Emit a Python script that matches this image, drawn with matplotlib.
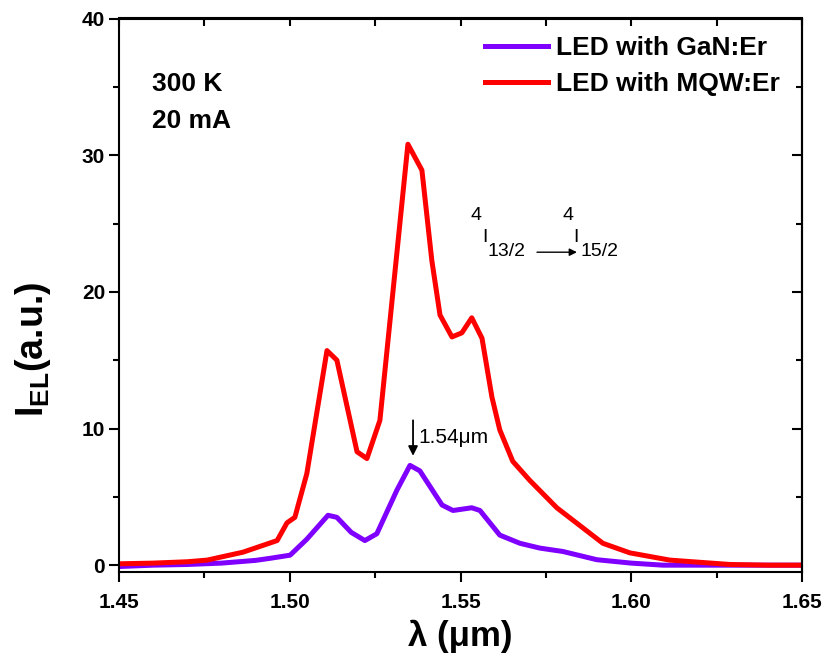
import matplotlib
matplotlib.use("Agg")
import matplotlib.pyplot as plt
from matplotlib.ticker import MultipleLocator

plt.rcParams['font.family'] = ['Liberation Sans', 'DejaVu Sans']
plt.rcParams['mathtext.fontset'] = 'custom'
plt.rcParams['mathtext.rm'] = 'Liberation Sans'
plt.rcParams['mathtext.bf'] = 'Liberation Sans:bold'
plt.rcParams['mathtext.it'] = 'Liberation Sans:italic'

# ---- data ----
wl_mqw = [1.450, 1.460, 1.470, 1.4758, 1.4863, 1.4963, 1.4992, 1.5015, 1.5050,
          1.5109, 1.5138, 1.5197, 1.5226, 1.5264, 1.5346, 1.5387, 1.5416, 1.5440,
          1.5475, 1.5504, 1.5533, 1.5563, 1.5592, 1.5615, 1.5653, 1.5703, 1.5782,
          1.5917, 1.5996, 1.6113, 1.6289, 1.640, 1.650]
i_mqw = [0.1, 0.15, 0.25, 0.37, 0.95, 1.8, 3.1, 3.5, 6.7,
         15.7, 15.0, 8.3, 7.8, 10.6, 30.8, 28.9, 22.3, 18.3,
         16.7, 17.0, 18.1, 16.6, 12.3, 9.9, 7.6, 6.2, 4.2,
         1.6, 0.9, 0.37, 0.05, 0.0, 0.0]

wl_gan = [1.450, 1.460, 1.470, 1.480, 1.490, 1.4942, 1.5001, 1.5050, 1.5112,
          1.5138, 1.5180, 1.5220, 1.5255, 1.5314, 1.5352, 1.5381, 1.5446, 1.5478,
          1.5533, 1.5557, 1.5615, 1.5674, 1.5732, 1.5800, 1.5899, 1.6000, 1.6093,
          1.620, 1.650]
i_gan = [-0.1, 0.0, 0.05, 0.15, 0.35, 0.5, 0.73, 1.9, 3.65,
         3.5, 2.4, 1.8, 2.3, 5.5, 7.3, 6.9, 4.4, 4.0,
         4.2, 4.0, 2.2, 1.6, 1.25, 1.0, 0.4, 0.15, 0.0,
         0.0, 0.0]

labels = ['LED with GaN:Er', 'LED with MQW:Er']
colors = ['#7F00FF', '#FF0000']
x_ticks = [1.45, 1.50, 1.55, 1.60, 1.65]
y_ticks = [0, 10, 20, 30, 40]

fig = plt.figure(figsize=(8.26, 6.62), dpi=100)
ax = fig.add_axes([119/826, 1-572/662, (802-119)/826, (572-18.5)/662])

ax.plot(wl_gan, i_gan, color=colors[0], lw=3.6, label=labels[0], solid_joinstyle='round')
ax.plot(wl_mqw, i_mqw, color=colors[1], lw=3.6, label=labels[1], solid_joinstyle='round')

ax.set_xlim(1.45, 1.65)
ax.set_ylim(-0.5, 40)
ax.set_xticks(x_ticks)
ax.set_xticklabels([f'{v:.2f}' for v in x_ticks])
ax.set_yticks(y_ticks)
ax.set_yticklabels([str(v) for v in y_ticks])
ax.xaxis.set_minor_locator(MultipleLocator(0.025))
ax.yaxis.set_minor_locator(MultipleLocator(5))

for s in ax.spines.values():
    s.set_linewidth(1.5)

ax.tick_params(which='major', direction='out', length=7, width=1.5, labelsize=15)
ax.tick_params(which='minor', direction='out', length=4, width=1.5)
ax.tick_params(axis='x', which='major', pad=8)
ax.tick_params(axis='y', which='major', pad=3)
for lab in ax.get_xticklabels() + ax.get_yticklabels():
    lab.set_fontweight('bold')

# mirrored ticks pointing inward on top/right
axt = ax.secondary_xaxis('top')
axt.set_xticks(x_ticks)
axt.xaxis.set_minor_locator(MultipleLocator(0.025))
axt.tick_params(which='both', direction='in', labeltop=False, width=1.5)
axt.tick_params(which='major', length=6)
axt.tick_params(which='minor', length=6)
axr = ax.secondary_yaxis('right')
axr.set_yticks(y_ticks)
axr.yaxis.set_minor_locator(MultipleLocator(5))
axr.tick_params(which='both', direction='in', labelright=False, width=1.5)
axr.tick_params(which='major', length=7)
axr.tick_params(which='minor', length=4)
axt.spines['top'].set_linewidth(1.5)
axr.spines['right'].set_linewidth(1.5)

ax.set_xlabel('λ (μm)', fontsize=25, fontweight='bold', labelpad=6)
fig.text(33/826, 1-349/662, r'$\mathbf{I}_{\mathbf{EL}}$(a.u.)', rotation=90,
         ha='center', va='center', fontsize=27, fontweight='bold')

leg = ax.legend(loc='upper left', bbox_to_anchor=(0.536, 0.968), frameon=False,
                prop={'weight': 'bold', 'size': 19}, handlelength=2.4,
                handletextpad=0.27, labelspacing=0.45, borderpad=0, borderaxespad=0)

ax.text(0.048, 0.881, '300 K', transform=ax.transAxes, fontsize=19,
        fontweight='bold', ha='left', va='center')
ax.text(0.048, 0.814, '20 mA', transform=ax.transAxes, fontsize=19,
        fontweight='bold', ha='left', va='center')

# 1.54 um marker
ax.annotate('', xy=(1.5361, 8.0), xytext=(1.5361, 10.6),
            arrowprops=dict(arrowstyle='-|>', color='black', lw=1.3,
                            mutation_scale=14, shrinkA=0, shrinkB=0))
ax.text(1.5376, 9.36, '1.54μm', fontsize=15, ha='left', va='center')

# transition label 4I13/2 -> 4I15/2
fs = 14
ax.text(1.5545, 25.6, '4', fontsize=fs, ha='center', va='center')
ax.text(1.5571, 24.0, 'I', fontsize=fs, ha='center', va='center')
ax.text(1.5580, 22.95, '13/2', fontsize=fs, ha='left', va='center')
ax.annotate('', xy=(1.5841, 22.9), xytext=(1.5724, 22.9),
            arrowprops=dict(arrowstyle='-|>', color='black', lw=1.0,
                            mutation_scale=11, shrinkA=0, shrinkB=0))
ax.text(1.5814, 25.6, '4', fontsize=fs, ha='center', va='center')
ax.text(1.5838, 24.0, 'I', fontsize=fs, ha='center', va='center')
ax.text(1.5850, 22.95, '15/2', fontsize=fs, ha='left', va='center')

fig.savefig('out.png', dpi=100)
